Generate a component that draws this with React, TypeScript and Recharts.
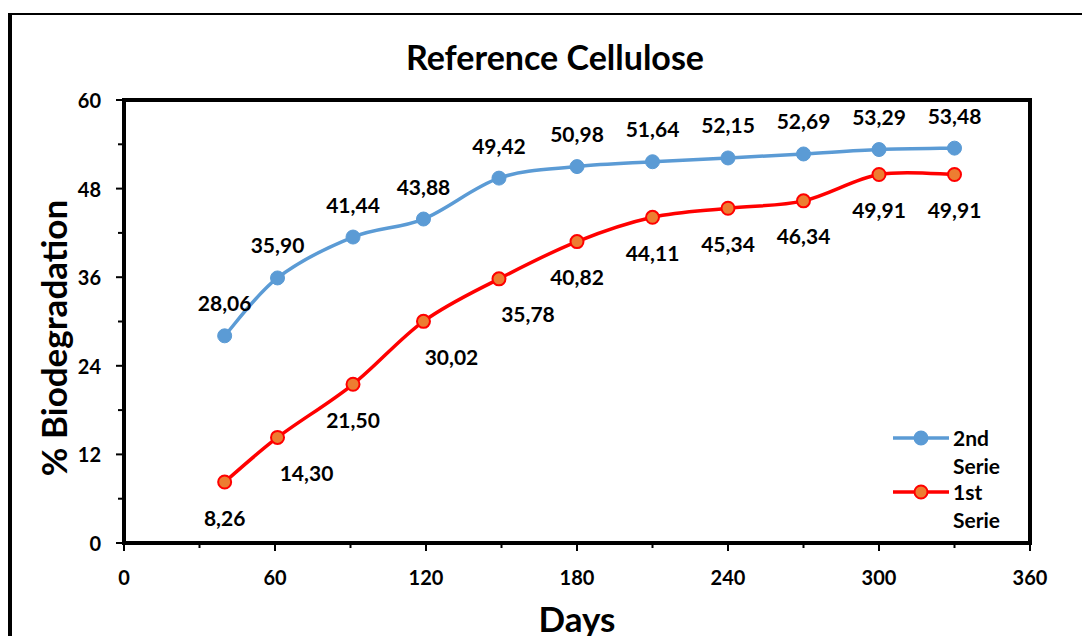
import React from "react";
import { LineChart, Line, XAxis, YAxis, ReferenceArea, LabelList, Legend } from "recharts";

const days = [40, 61, 91, 119, 149, 180, 210, 240, 270, 300, 330];
const secondSerie = [28.06, 35.9, 41.44, 43.88, 49.42, 50.98, 51.64, 52.15, 52.69, 53.29, 53.48];
const firstSerie = [8.26, 14.3, 21.5, 30.02, 35.78, 40.82, 44.11, 45.34, 46.34, 49.91, 49.91];
const xTicks = [0, 30, 60, 90, 120, 150, 180, 210, 240, 270, 300, 330, 360];
const yTicks = [0, 6, 12, 18, 24, 30, 36, 42, 48, 54, 60];
const seriesNames = ["2nd Serie", "1st Serie"];

const data = days.map((d, i) => ({ day: d, s2: secondSerie[i], s1: firstSerie[i] }));

const FONT = "Lato, 'Open Sans', sans-serif";
const BLUE = "#5B9BD5";
const RED = "#FF0000";
const ORANGE = "#ED7D31";

// Excel-like smoothed line (Catmull-Rom as cubic Bezier)
const excelCurve = (context: any) => {
  let pts: number[][] = [];
  return {
    areaStart() {},
    areaEnd() {},
    lineStart() {
      pts = [];
    },
    point(x: number, y: number) {
      pts.push([+x, +y]);
    },
    lineEnd() {
      const n = pts.length;
      if (!n) return;
      context.moveTo(pts[0][0], pts[0][1]);
      for (let i = 0; i < n - 1; i++) {
        const p0 = pts[i - 1] || pts[i];
        const p1 = pts[i];
        const p2 = pts[i + 1];
        const p3 = pts[i + 2] || pts[i + 1];
        context.bezierCurveTo(
          p1[0] + (p2[0] - p0[0]) / 6,
          p1[1] + (p2[1] - p0[1]) / 6,
          p2[0] - (p3[0] - p1[0]) / 6,
          p2[1] - (p3[1] - p1[1]) / 6,
          p2[0],
          p2[1]
        );
      }
    },
  };
};

const fmt = (v: number) => v.toFixed(2).replace(".", ",");

const YTick = (props: any) => {
  const { x, y, payload } = props;
  const v = payload.value;
  const major = v % 12 === 0;
  return (
    <g>
      <line x1={x} x2={x - (major ? 8 : 6)} y1={y} y2={y} stroke="#000" strokeWidth={2} />
      {major && (
        <text x={x - 23} y={y} textAnchor="end" dominantBaseline="central" fontFamily={FONT} fontWeight={700} fontSize={20} fill="#000">
          {v}
        </text>
      )}
    </g>
  );
};

const XTick = (props: any) => {
  const { x, y, payload } = props;
  const v = payload.value;
  const major = v % 60 === 0;
  return (
    <g>
      <line x1={x} x2={x} y1={y} y2={y + (major ? 8 : 5)} stroke="#000" strokeWidth={2} />
      {major && (
        <text x={x} y={y + 34} textAnchor="middle" dominantBaseline="central" fontFamily={FONT} fontWeight={700} fontSize={20} fill="#000">
          {v}
        </text>
      )}
    </g>
  );
};

const redShift = [0, 29, 0, 28, 29, 0, 0, 0, 0, 0, 0];

const BlueLabel = (props: any) => {
  const { x, y, value } = props;
  return (
    <text x={x} y={y - 33} textAnchor="middle" dominantBaseline="central" fontFamily={FONT} fontWeight={700} fontSize={21} fill="#000">
      {fmt(value)}
    </text>
  );
};

const RedLabel = (props: any) => {
  const { x, y, value, index } = props;
  return (
    <text x={x + (redShift[index] || 0)} y={y + 35} textAnchor="middle" dominantBaseline="central" fontFamily={FONT} fontWeight={700} fontSize={21} fill="#000">
      {fmt(value)}
    </text>
  );
};

const LegendContent = () => {
  const items = [
    { name: seriesNames[0], color: BLUE, fill: BLUE },
    { name: seriesNames[1], color: RED, fill: ORANGE },
  ];
  return (
    <div>
      {items.map((it, i) => {
        const [a, b] = it.name.split(" ");
        return (
          <div key={i} style={{ display: "flex", alignItems: "flex-start", height: 54 }}>
            <svg width={60} height={28} style={{ display: "block" }}>
              <line x1={0} x2={56} y1={14} y2={14} stroke={it.color} strokeWidth={3.5} />
              <circle cx={28} cy={14} r={6.5} fill={it.fill} stroke={it.color} strokeWidth={2} />
            </svg>
            <div style={{ fontFamily: FONT, fontWeight: 700, fontSize: 21, lineHeight: "28px", color: "#000" }}>
              <div>{a}</div>
              <div>{b}</div>
            </div>
          </div>
        );
      })}
    </div>
  );
};

export default function App() {
  return (
    <div style={{ position: "relative", width: 1082, height: 636, marginBottom: -8, overflow: "hidden" }}>
      <div
        style={{
          position: "absolute",
          left: 0,
          top: 5,
          width: 1300,
          height: 900,
          borderLeft: "4px solid #000",
          borderTop: "2px solid #000",
          boxSizing: "border-box",
        }}
      />
      <div
        style={{
          position: "absolute",
          left: 0,
          top: 30,
          width: 1094,
          textAlign: "center",
          fontFamily: FONT,
          fontWeight: 700,
          fontSize: 34,
          lineHeight: "38px",
          color: "#000",
        }}
      >
        Reference Cellulose
      </div>
      <div style={{ position: "absolute", left: 45, top: 330, width: 0, height: 0 }}>
        <div
          style={{
            position: "absolute",
            left: -200,
            top: -20,
            width: 400,
            textAlign: "center",
            transform: "rotate(-90deg)",
            fontFamily: FONT,
            fontWeight: 700,
            fontSize: 35,
            lineHeight: "40px",
            color: "#000",
          }}
        >
          % Biodegradation
        </div>
      </div>
      <div
        style={{
          position: "absolute",
          left: 369,
          top: 590,
          width: 400,
          textAlign: "center",
          fontFamily: FONT,
          fontWeight: 700,
          fontSize: 35,
          lineHeight: "40px",
          color: "#000",
        }}
      >
        Days
      </div>
      <div style={{ position: "absolute", left: 0, top: 0 }}>
        <LineChart width={1082} height={636} data={data} margin={{ top: 92, left: 56, right: 60, bottom: 41 }}>
          <XAxis
            dataKey="day"
            type="number"
            domain={[0, 360]}
            ticks={xTicks}
            interval={0}
            height={60}
            tickSize={0}
            tickMargin={0}
            tickLine={false}
            axisLine={{ stroke: "#000", strokeWidth: 4 }}
            tick={<XTick />}
          />
          <YAxis
            type="number"
            domain={[0, 60]}
            ticks={yTicks}
            interval={0}
            width={60}
            tickSize={0}
            tickMargin={0}
            tickLine={false}
            axisLine={{ stroke: "#000", strokeWidth: 4 }}
            tick={<YTick />}
          />
          <ReferenceArea x1={0} x2={360} y1={0} y2={60} fill="none" stroke="#000" strokeWidth={4} />
          <Legend
            layout="vertical"
            align="center"
            verticalAlign="middle"
            content={<LegendContent />}
            wrapperStyle={{ position: "absolute", left: 885, top: 416, width: 130 }}
          />
          <Line
            name={seriesNames[0]}
            dataKey="s2"
            type={excelCurve as any}
            stroke={BLUE}
            strokeWidth={3.5}
            dot={{ r: 7, fill: BLUE, stroke: BLUE, strokeWidth: 1 }}
            activeDot={false}
            isAnimationActive={false}
          >
            <LabelList dataKey="s2" content={<BlueLabel />} />
          </Line>
          <Line
            name={seriesNames[1]}
            dataKey="s1"
            type={excelCurve as any}
            stroke={RED}
            strokeWidth={3.5}
            dot={{ r: 6.5, fill: ORANGE, stroke: RED, strokeWidth: 2 }}
            activeDot={false}
            isAnimationActive={false}
          >
            <LabelList dataKey="s1" content={<RedLabel />} />
          </Line>
        </LineChart>
      </div>
    </div>
  );
}
